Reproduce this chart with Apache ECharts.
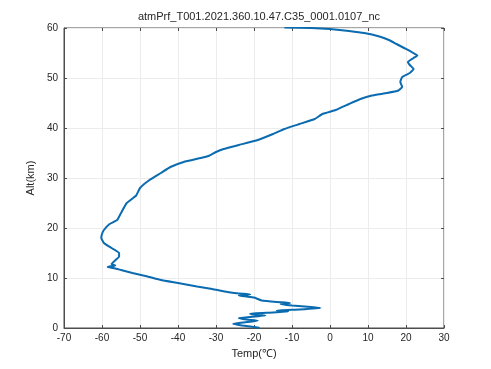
<!DOCTYPE html>
<html><head><meta charset="utf-8">
<script src="https://cdn.jsdelivr.net/npm/echarts@6/dist/echarts.min.js"></script>
<style>html,body{margin:0;padding:0;background:#fff}#c{width:491px;height:369px}</style>
</head><body><div id="c"></div>
<script>
const titleText = 'atmPrf_T001.2021.360.10.47.C35_0001.0107_nc';
const xTicks = [-70,-60,-50,-40,-30,-20,-10,0,10,20,30];
const yTicks = [0,10,20,30,40,50,60];
const temps = [-18.5,-20,-23,-25.5,-24,-20.5,-19,-22,-24,-21,-17,-20,-21,-15,-11,-14,-8,-2.5,-5,-10,-13,-10.5,-14,-18,-19,-20,-22,-24,-21,-24,-27,-31,-35,-40,-44.5,-48,-52,-55,-57,-58.5,-56.5,-57.5,-57,-55.5,-55.5,-57.5,-59.5,-60.2,-60,-59.5,-58,-56,-55,-53.5,-51,-50,-47.5,-44.5,-42,-38.5,-34,-32,-30,-28,-24,-19,-15,-12,-8,-4,-2,1.5,5,8,11,15,18,19,18.5,19,21,22,21,20.5,22,23,21.5,19.5,17.5,15.5,13,9,5,0,-5,-12];
const alts = [0,0.2,0.5,0.8,1.0,1.3,1.5,1.7,2.0,2.2,2.5,2.7,2.9,3.1,3.3,3.5,3.7,4.0,4.2,4.5,4.8,5.0,5.2,5.5,5.8,6.1,6.3,6.5,6.7,6.9,7.2,7.8,8.3,9.0,9.6,10.3,11.0,11.6,12.0,12.2,12.5,12.8,13.2,14.3,15.0,16.0,17.0,18.0,18.8,19.6,20.8,21.6,23.0,25,26.5,28,29.6,31,32.2,33.2,34,34.4,35.2,35.8,36.6,37.6,38.8,39.8,40.8,41.8,42.8,43.6,44.8,45.8,46.5,47.0,47.5,48.2,49.2,50.2,51.0,51.8,52.6,53.2,54.0,54.5,55.2,56.0,56.8,57.6,58.3,59.0,59.4,59.8,60,60.1];
const data = temps.map((t,i)=>[t,alts[i]]);
const chart = echarts.init(document.getElementById('c'));
const axisCol = '#4d4d4d';
chart.setOption({
  animation:false,
  title:{text:titleText,left:254,top:6,textAlign:'center',textStyle:{fontFamily:'Liberation Sans',fontSize:11,fontWeight:'normal',color:'#262626'}},
  grid:{left:64,right:47,top:28,bottom:41,show:true,borderColor:axisCol,borderWidth:1,backgroundColor:'#fff'},
  xAxis:[{type:'value',min:xTicks[0],max:xTicks[xTicks.length-1],interval:10,
    name:'Temp(℃)',nameLocation:'middle',nameGap:20,
    nameTextStyle:{fontFamily:'Liberation Sans',fontSize:11,color:'#262626'},
    axisLine:{show:true,onZero:false,lineStyle:{color:axisCol}},
    axisTick:{show:true,inside:true,length:3,lineStyle:{color:axisCol}},
    axisLabel:{fontFamily:'Liberation Sans',fontSize:10,color:'#262626',margin:5},
    splitLine:{show:true,lineStyle:{color:'#ececec'}}},
    {type:'value',position:'top',min:-70,max:30,interval:10,axisLine:{show:false,onZero:false},axisTick:{show:true,inside:true,length:3,lineStyle:{color:axisCol}},axisLabel:{show:false},splitLine:{show:false}}],
  yAxis:[{type:'value',min:yTicks[0],max:yTicks[yTicks.length-1],interval:10,
    name:'Alt(km)',nameLocation:'middle',nameGap:22,nameRotate:90,
    nameTextStyle:{fontFamily:'Liberation Sans',fontSize:11,color:'#262626'},
    axisLine:{show:true,onZero:false,lineStyle:{color:axisCol}},
    axisTick:{show:true,inside:true,length:3,lineStyle:{color:axisCol}},
    axisLabel:{fontFamily:'Liberation Sans',fontSize:10,color:'#262626',margin:6},
    splitLine:{show:true,lineStyle:{color:'#ececec'}}},
    {type:'value',position:'right',min:0,max:60,interval:10,axisLine:{show:false,onZero:false},axisTick:{show:true,inside:true,length:3,lineStyle:{color:axisCol}},axisLabel:{show:false},splitLine:{show:false}}],
  series:[{type:'line',data:data,showSymbol:false,smooth:0.12,clip:true,
    lineStyle:{color:'#0a6bb0',width:2},itemStyle:{color:'#0a6bb0'}}]
});
</script></body></html>
